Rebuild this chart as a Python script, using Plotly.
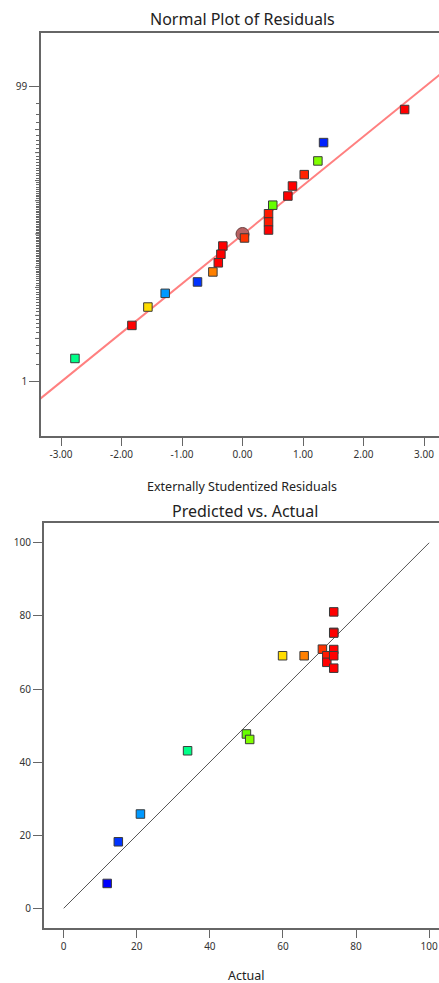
import plotly.graph_objects as go
from statistics import NormalDist

# ---------------- Data ----------------
# Normal plot of residuals
resid = [2.68, 1.34, 1.246, 1.02, 0.826, 0.75, 0.50, 0.43, 0.43, 0.43,
         0.033, -0.325, -0.357, -0.40, -0.49, -0.744, -1.278, -1.564, -1.828, -2.77]
norm_prob = [97.5, 92.5, 87.5, 82.5, 77.5, 72.5, 67.5, 62.5, 57.5, 52.5,
             47.5, 42.5, 37.5, 32.5, 27.5, 22.5, 17.5, 12.5, 7.5, 2.5]
resid_colors = ["#ff0000", "#0022ff", "#80ff00", "#ff2200", "#ff0000", "#ff0000", "#66ff00",
                "#ff1a00", "#ff1a00", "#ff0000", "#ff3300", "#ff0000", "#ff0000", "#ff0000",
                "#ff8000", "#0033ff", "#0099ff", "#ffdd00", "#ff0000", "#00ff88"]
center_resid = [0.0]
center_prob = [50.0]
fit_slope = 0.773
fit_intercept = -0.01
fit_x = [-3.5, 3.5]
prob_labels = [1, 99]
prob_minor = list(range(2, 99))
prob_medium = [5, 10, 20, 30, 50, 70, 80, 90, 95]
resid_ticks = [-3, -2, -1, 0, 1, 2, 3]

# Predicted vs actual
actual = [11.9, 14.95, 21.0, 33.9, 50.0, 50.9, 59.9, 65.8, 70.8, 72.0, 72.0,
          73.9, 73.9, 73.9, 73.9, 73.9, 73.9]
predicted = [6.8, 18.2, 25.8, 43.1, 47.7, 46.2, 69.1, 69.1, 70.9, 69.1, 67.3,
             81.1, 75.5, 75.3, 70.8, 69.1, 65.7]
pa_colors = ["#0000ff", "#0033ff", "#0099ff", "#00ff88", "#66ff00", "#80ff00", "#ffdd00",
             "#ff8000", "#ff3300", "#ff1a00", "#ff0000", "#ff0000", "#ff0000", "#ff0000",
             "#ff0000", "#ff0000", "#ff0000"]
diag = [0, 100]
pa_ticks = [0, 20, 40, 60, 80, 100]

# ---------------- Figure ----------------
W, H = 439, 983
nd = NormalDist()
z = lambda p: nd.inv_cdf(p / 100.0)

FONT = "Noto Sans"
AX = "#666666"
TXT = "#333333"

fig = go.Figure()

# fitted line (normal plot)
fig.add_trace(go.Scatter(
    x=fit_x, y=[fit_slope * v + fit_intercept for v in fit_x],
    mode="lines", line=dict(color="#ff8080", width=2),
    xaxis="x", yaxis="y", showlegend=False, hoverinfo="skip"))
# center circle
fig.add_trace(go.Scatter(
    x=center_resid, y=[z(p) for p in center_prob], mode="markers",
    marker=dict(symbol="circle", size=13, color="#b86262",
                line=dict(color="#6a4040", width=1)),
    xaxis="x", yaxis="y", showlegend=False))
# residual points
fig.add_trace(go.Scatter(
    x=resid, y=[z(p) for p in norm_prob], mode="markers",
    marker=dict(symbol="square", size=8.5, color=resid_colors,
                line=dict(color="#3a3a3a", width=1)),
    xaxis="x", yaxis="y", showlegend=False))

# diagonal (pred vs actual)
fig.add_trace(go.Scatter(
    x=diag, y=diag, mode="lines", line=dict(color="#555555", width=1),
    xaxis="x2", yaxis="y2", showlegend=False, hoverinfo="skip"))
fig.add_trace(go.Scatter(
    x=actual, y=predicted, mode="markers",
    marker=dict(symbol="square", size=8.5, color=pa_colors,
                line=dict(color="#3a3a3a", width=1)),
    xaxis="x2", yaxis="y2", showlegend=False))

def py(pix):
    return 1 - pix / H

def px(pix):
    return pix / W

# Top plot geometry (pixels)
t_left, t_top, t_bottom = 41, 33, 436
# Bottom plot geometry
b_left, b_top, b_bottom = 43.7, 522.7, 928.3

tickfont = dict(family=FONT, size=10, color=TXT)

fig.update_layout(
    width=W, height=H, margin=dict(l=0, r=0, t=0, b=0),
    paper_bgcolor="white", plot_bgcolor="white",
    font=dict(family=FONT, color=TXT),
    xaxis=dict(domain=[px(t_left), 1], anchor="y", range=[-3.331, 3.248],
               tickvals=resid_ticks, ticktext=["%.2f" % v for v in resid_ticks],
               ticks="outside", ticklen=8, tickcolor=AX, tickwidth=1,
               showline=True, linecolor=AX, linewidth=1.5, mirror=True,
               showgrid=False, zeroline=False, tickfont=tickfont),
    yaxis=dict(domain=[py(t_bottom), py(t_top)], anchor="x",
               range=[-3.181, 3.165],
               tickvals=[z(p) for p in prob_labels], ticktext=[str(p) for p in prob_labels],
               ticks="outside", ticklen=10, tickcolor=AX, tickwidth=1,
               minor=dict(tickmode="array", tickvals=[z(p) for p in prob_minor],
                          ticks="outside", ticklen=3, tickcolor=AX, tickwidth=1),
               showline=True, linecolor=AX, linewidth=1.5, mirror=False,
               showgrid=False, zeroline=False, tickfont=tickfont),
    xaxis2=dict(domain=[px(b_left), 1], anchor="y2", range=[-5.47, 102.7],
                tickvals=pa_ticks, ticks="outside", ticklen=8, tickcolor=AX, tickwidth=1,
                showline=True, linecolor=AX, linewidth=1.5, mirror=True,
                showgrid=False, zeroline=False, tickfont=tickfont),
    yaxis2=dict(domain=[py(b_bottom), py(b_top)], anchor="x2", range=[-5.47, 105.5],
                tickvals=pa_ticks, ticks="outside", ticklen=9, tickcolor=AX, tickwidth=1,
                showline=True, linecolor=AX, linewidth=1.5, mirror=False,
                showgrid=False, zeroline=False, tickfont=tickfont),
)

# medium ticks on probability axis
for p in prob_medium:
    fig.add_shape(type="line", xref="x domain", yref="y",
                  xsizemode="pixel", xanchor=0, x0=-6, x1=0, y0=z(p), y1=z(p),
                  line=dict(color=AX, width=1))

# titles
fig.add_annotation(text="Normal Plot of Residuals", xref="paper", yref="paper",
                   x=px(242), y=py(19), showarrow=False, xanchor="center", yanchor="middle",
                   font=dict(family=FONT, size=16, color="#222222"))
fig.add_annotation(text="Externally Studentized Residuals", xref="paper", yref="paper",
                   x=px(242), y=py(486), showarrow=False, xanchor="center", yanchor="middle",
                   font=dict(family=FONT, size=12.5, color="#222222"))
fig.add_annotation(text="Predicted vs. Actual", xref="paper", yref="paper",
                   x=px(245), y=py(511), showarrow=False, xanchor="center", yanchor="middle",
                   font=dict(family=FONT, size=16, color="#222222"))
fig.add_annotation(text="Actual", xref="paper", yref="paper",
                   x=px(246), y=py(975), showarrow=False, xanchor="center", yanchor="middle",
                   font=dict(family=FONT, size=12.5, color="#222222"))

fig.write_html(
    "out.html",
    config={"displayModeBar": False},
    post_script="document.body.style.margin='0';document.body.style.overflow='hidden';",
)
